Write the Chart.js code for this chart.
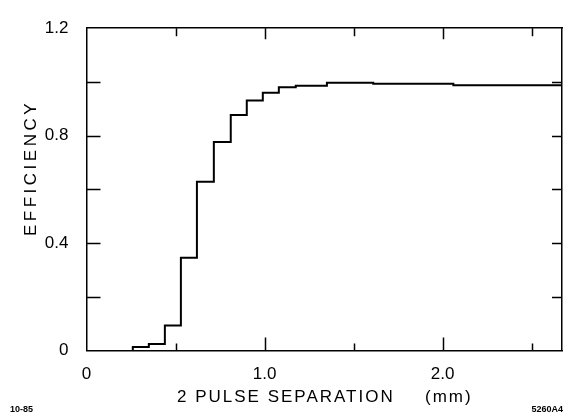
<!DOCTYPE html>
<html>
<head>
<meta charset="utf-8">
<script src="https://cdn.jsdelivr.net/npm/chart.js@4/dist/chart.umd.min.js"></script>
<style>
  html, body { margin: 0; padding: 0; background: #fff; }
  canvas { display: block; }
</style>
</head>
<body>
<canvas id="grafico" width="566" height="413"></canvas>
<script>
// pulse separation (mm) where each step starts, and the efficiency held from there on
const separacion = [0.26, 0.26, 0.35, 0.44, 0.53, 0.62, 0.715, 0.81, 0.90, 0.99, 1.08, 1.175, 1.35, 1.61, 2.06, 2.67];
const eficiencia = [0, 0.013, 0.024, 0.093, 0.345, 0.628, 0.776, 0.877, 0.931, 0.96, 0.98, 0.986, 0.997, 0.993, 0.988, 0.988];

// labelled ticks
const etiquetasX = [0, 1, 2];
const etiquetasY = [0, 0.4, 0.8, 1.2];

const tinta = '#000';
Chart.defaults.font.family = "'Liberation Sans', Arial, sans-serif";
Chart.defaults.font.size = 17;
Chart.defaults.color = tinta;

const casi = (a, b) => Math.abs(a - b) < 1e-6;

// tick marks drawn inward from the frame, like the original plot
const marcasInternas = {
  id: 'marcasInternas',
  afterDraw(chart) {
    const { ctx, chartArea: a, scales } = chart;
    ctx.save();
    ctx.strokeStyle = tinta;
    ctx.lineWidth = 1.5;
    ctx.beginPath();
    scales.x.ticks.forEach(t => {
      if (t.value <= 0) return;
      const px = Math.round(scales.x.getPixelForValue(t.value)) + 0.5;
      const largo = Number.isInteger(t.value) ? 13 : 7;
      ctx.moveTo(px, a.bottom); ctx.lineTo(px, a.bottom - largo);
      ctx.moveTo(px, a.top); ctx.lineTo(px, a.top + (Number.isInteger(t.value) ? 11 : 8));
    });
    scales.y.ticks.forEach(t => {
      if (t.value <= 0 || t.value >= 1.2 - 1e-6) return;
      const py = Math.round(scales.y.getPixelForValue(t.value)) + 0.5;
      ctx.moveTo(a.left, py); ctx.lineTo(a.left + 14, py);
      ctx.moveTo(a.right, py); ctx.lineTo(a.right - 10, py);
    });
    ctx.stroke();

    // axis titles and corner notes
    ctx.fillStyle = tinta;
    ctx.textBaseline = 'alphabetic';
    ctx.font = "17px 'Liberation Sans', Arial, sans-serif";
    ctx.letterSpacing = '2px';
    ctx.textAlign = 'left';
    ctx.fillText('2 PULSE SEPARATION', 177, 402);
    ctx.fillText('(mm)', 425, 402);

    ctx.save();
    ctx.translate(36, 168);
    ctx.rotate(-Math.PI / 2);
    ctx.letterSpacing = '3.5px';
    ctx.textAlign = 'center';
    ctx.fillText('EFFICIENCY', 0, 0);
    ctx.restore();

    ctx.letterSpacing = '0px';
    ctx.font = "bold 9px 'Liberation Sans', Arial, sans-serif";
    ctx.textAlign = 'left';
    ctx.fillText('10-85', 10, 412);
    ctx.textAlign = 'right';
    ctx.fillText('5260A4', 563, 412);
    ctx.restore();
  }
};

const borde = { display: true, color: tinta, width: 1.5 };
const sinRejilla = { display: true, drawOnChartArea: false, drawTicks: false };

new Chart(document.getElementById('grafico'), {
  type: 'line',
  data: {
    datasets: [{
      label: 'Efficiency',
      data: separacion.map((x, i) => ({ x, y: eficiencia[i] })),
      stepped: true,
      borderColor: tinta,
      borderWidth: 2,
      pointRadius: 0,
      fill: false
    }]
  },
  options: {
    responsive: false,
    animation: false,
    devicePixelRatio: 1,
    layout: { padding: { left: 26.5, right: 4, top: 20, bottom: 20.5 } },
    plugins: { legend: { display: false }, tooltip: { enabled: false } },
    scales: {
      x: {
        type: 'linear', position: 'bottom', min: 0, max: 2.67,
        border: borde, grid: sinRejilla,
        ticks: {
          stepSize: 0.5, includeBounds: false, autoSkip: false, maxRotation: 0, padding: 14,
          callback: v => etiquetasX.some(e => casi(e, v)) ? (v === 0 ? '0' : v.toFixed(1)) : ''
        },
        afterFit: s => { s.height = 42; }
      },
      y: {
        type: 'linear', position: 'left', min: 0, max: 1.2,
        border: borde, grid: sinRejilla,
        ticks: {
          stepSize: 0.2, includeBounds: false, autoSkip: false, padding: 18,
          callback: v => etiquetasY.some(e => casi(e, v)) ? (v === 0 ? '0' : v.toFixed(1)) : ''
        },
        afterFit: s => { s.width = 60; }
      },
      x2: {
        type: 'linear', position: 'top', min: 0, max: 2.67,
        border: borde, grid: sinRejilla, ticks: { display: false }
      },
      y2: {
        type: 'linear', position: 'right', min: 0, max: 1.2,
        border: borde, grid: sinRejilla, ticks: { display: false }
      }
    }
  },
  plugins: [marcasInternas]
});
</script>
</body>
</html>
